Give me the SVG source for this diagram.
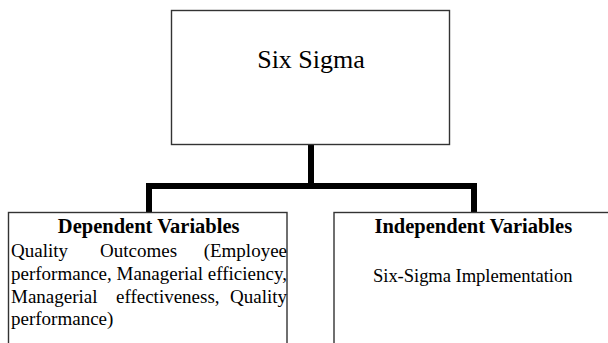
<svg xmlns="http://www.w3.org/2000/svg" width="608" height="343" viewBox="0 0 608 343">
  <style>
    .box { fill: #ffffff; stroke: #333333; stroke-width: 1.4; }
    .wire { fill: none; stroke: #000000; stroke-width: 6; stroke-linejoin: miter; stroke-linecap: butt; }
    text { font-family: "Liberation Serif", "Times New Roman", serif; fill: #000000; }
    .title { font-size: 26px; }
    .head { font-size: 20.5px; font-weight: bold; }
    .body { font-size: 19px; }
    .note { font-size: 18.6px; }
  </style>
  <rect width="608" height="343" fill="#ffffff"/>

  <!-- tree connectors -->
  <g id="connectors">
    <path class="wire" d="M311,144 V186"/>
    <path class="wire" d="M149,212 V186 H474 V212"/>
  </g>

  <!-- root -->
  <g id="six-sigma">
    <rect class="box" x="171.5" y="10.5" width="278" height="134"/>
    <text class="title" x="311" y="68" text-anchor="middle">Six Sigma</text>
  </g>

  <!-- left branch -->
  <g id="dependent-variables">
    <rect class="box" x="8.5" y="212.5" width="278.5" height="140"/>
    <text class="head" x="148.7" y="233" text-anchor="middle">Dependent Variables</text>
    <text class="body" y="256.5">
      <tspan x="11">Quality</tspan>
      <tspan x="100">Outcomes</tspan>
      <tspan x="287" text-anchor="end">(Employee</tspan>
    </text>
    <text class="body" x="11" y="279.5" textLength="276" lengthAdjust="spacing">performance, Managerial efficiency,</text>
    <text class="body" y="302.5">
      <tspan x="11">Managerial</tspan>
      <tspan x="116">effectiveness,</tspan>
      <tspan x="287" text-anchor="end">Quality</tspan>
    </text>
    <text class="body" x="11" y="325">performance)</text>
  </g>

  <!-- right branch -->
  <g id="independent-variables">
    <rect class="box" x="334" y="212.5" width="290" height="140"/>
    <text class="head" x="473.3" y="233" text-anchor="middle">Independent Variables</text>
    <text class="note" x="373" y="281.5" textLength="199.5" lengthAdjust="spacing">Six-Sigma Implementation</text>
  </g>
</svg>
